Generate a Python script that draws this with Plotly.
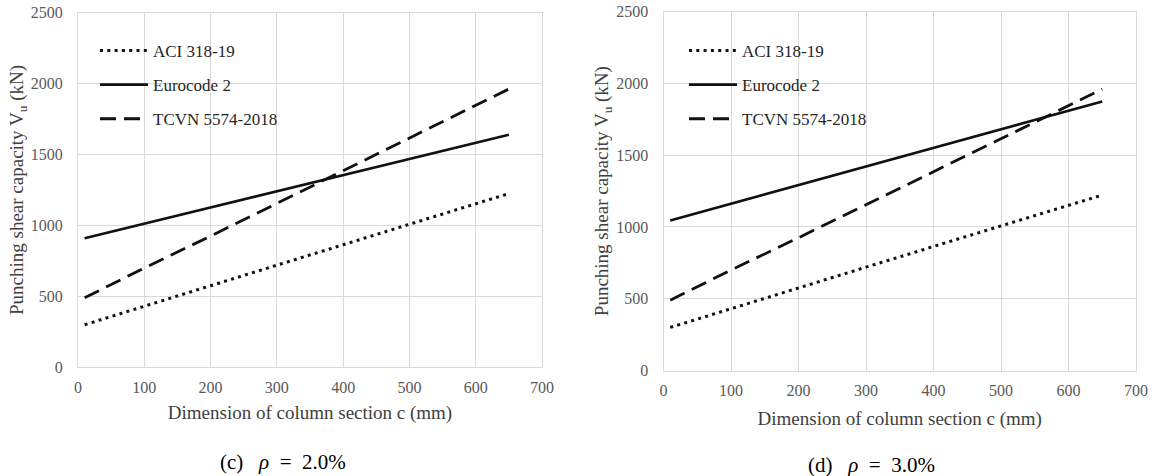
import plotly.graph_objects as go

# ---- data ----
c_mm = [10, 100, 200, 300, 400, 500, 600, 650]

aci_c = [300, 432, 576, 720, 864, 1008, 1152, 1225]      # ACI 318-19, rho = 2.0%
ec2_c = [910, 1013, 1127, 1241, 1355, 1469, 1583, 1640]   # Eurocode 2, rho = 2.0%
tcvn_c = [490, 700, 925, 1155, 1385, 1615, 1845, 1962]    # TCVN 5574-2018, rho = 2.0%

aci_d = [300, 432, 576, 720, 864, 1008, 1152, 1222]       # ACI 318-19, rho = 3.0%
ec2_d = [1045, 1162, 1291, 1421, 1551, 1680, 1810, 1875]  # Eurocode 2, rho = 3.0%
tcvn_d = [490, 700, 925, 1155, 1385, 1615, 1845, 1960]    # TCVN 5574-2018, rho = 3.0%

series_names = ["ACI 318-19", "Eurocode 2", "TCVN 5574-2018"]
captions = ["(c)&nbsp;&nbsp;&nbsp;<i>ρ</i>&nbsp;&nbsp;=&nbsp;&nbsp;2.0%",
            "(d)&nbsp;&nbsp;&nbsp;<i>ρ</i>&nbsp;&nbsp;=&nbsp;&nbsp;3.0%"]
x_title = "Dimension of column section c (mm)"
y_title = "Punching shear capacity V<sub>u</sub> (kN)"

W, H = 1160, 476
SERIF = "Liberation Serif"

styles = [
    dict(color="#111111", width=3, dash="3px,4.3px"),
    dict(color="#111111", width=2.6),
    dict(color="#111111", width=2.8, dash="16px,8px"),
]

fig = go.Figure()

panels = [
    (dict(xaxis="x", yaxis="y"), [aci_c, ec2_c, tcvn_c], "legend"),
    (dict(xaxis="x2", yaxis="y2"), [aci_d, ec2_d, tcvn_d], "legend2"),
]
for axes, ys, leg in panels:
    for name, yv, st in zip(series_names, ys, styles):
        fig.add_trace(go.Scatter(
            x=c_mm, y=yv, mode="lines", name=name, line=st,
            legend=leg, legendgroup=leg + name, showlegend=True, **axes))

def px_x(p):
    return p / W

def px_y(p):
    return (H - p) / H

grid = "#d9d9d9"
tickfont = dict(family=SERIF, size=16, color="#595959")
titlefont = dict(family=SERIF, size=19, color="#404040")

def xaxis(domain, anchor, standoff):
    return dict(domain=domain, anchor=anchor, range=[0, 700], dtick=100, tick0=0,
                showgrid=True, gridcolor=grid, gridwidth=1,
                showline=True, linecolor=grid, linewidth=1, mirror=True,
                zeroline=False, ticks="", tickfont=tickfont, ticklabelstandoff=5,
                title=dict(text=x_title, font=titlefont, standoff=standoff),
                automargin=False, fixedrange=True)

def yaxis(domain, anchor):
    return dict(domain=domain, anchor=anchor, range=[0, 2500], dtick=500, tick0=0,
                showgrid=True, gridcolor=grid, gridwidth=1,
                showline=True, linecolor=grid, linewidth=1, mirror=True,
                zeroline=True, zerolinecolor="#bfbfbf", zerolinewidth=1.5,
                ticks="", tickfont=tickfont, ticklabelstandoff=11,
                title=dict(text=y_title, font=titlefont, standoff=2),
                automargin=False, fixedrange=True)

legend_common = dict(font=dict(family=SERIF, size=17, color="#262626"),
                     bgcolor="rgba(0,0,0,0)", borderwidth=0,
                     traceorder="grouped", tracegroupgap=9,
                     itemwidth=48, xanchor="left", yanchor="top")

fig.update_layout(
    width=W, height=H,
    margin=dict(l=0, r=0, t=0, b=0),
    paper_bgcolor="white", plot_bgcolor="white",
    xaxis=xaxis([px_x(78), px_x(542)], "y", 11),
    yaxis=yaxis([px_y(367.3), px_y(12.7)], "x"),
    xaxis2=xaxis([px_x(663.5), px_x(1136)], "y2", 13),
    yaxis2=yaxis([px_y(370.5), px_y(11.7)], "x2"),
    legend=dict(x=px_x(95), y=px_y(33), **legend_common),
    legend2=dict(x=px_x(684), y=px_y(33), **legend_common),
    annotations=[
        dict(text=captions[0], x=px_x(283), y=px_y(461.5), xref="paper", yref="paper",
             showarrow=False, xanchor="center", yanchor="middle",
             font=dict(family=SERIF, size=21, color="#000000")),
        dict(text=captions[1], x=px_x(871), y=px_y(464.5), xref="paper", yref="paper",
             showarrow=False, xanchor="center", yanchor="middle",
             font=dict(family=SERIF, size=21, color="#000000")),
    ],
    hovermode=False,
)

fig.write_html("out.html")
